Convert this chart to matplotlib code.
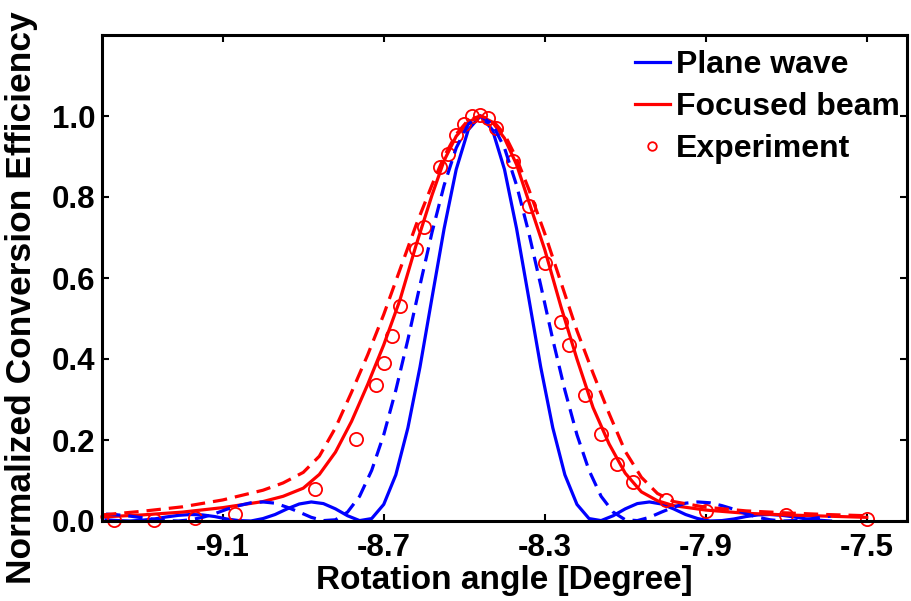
import numpy as np
from matplotlib import pyplot as plt

plt.rcParams['font.family'] = ['Liberation Sans', 'DejaVu Sans']
plt.rcParams['font.weight'] = 'bold'

# Plane wave (blue), solid and dashed
x_plane = [-9.39, -9.36, -9.33, -9.30, -9.27, -9.24, -9.21, -9.18, -9.15, -9.12,
           -9.09, -9.06, -9.03, -9.00, -8.97, -8.94, -8.91, -8.88, -8.85, -8.82,
           -8.79, -8.76, -8.73, -8.70, -8.67, -8.64, -8.61, -8.58, -8.55, -8.52,
           -8.49, -8.46, -8.43, -8.40, -8.37, -8.34, -8.31, -8.28, -8.25, -8.22,
           -8.19, -8.16, -8.13, -8.10, -8.07, -8.04, -8.01, -7.98, -7.95, -7.92,
           -7.89, -7.86, -7.83, -7.80, -7.77, -7.74, -7.71, -7.68, -7.65, -7.62,
           -7.59]
plane_solid = [0.003, 0.001, 0.000, 0.002, 0.005, 0.010, 0.014, 0.016, 0.015, 0.011,
               0.005, 0.001, 0.000, 0.006, 0.016, 0.030, 0.042, 0.047, 0.043, 0.030,
               0.013, 0.001, 0.006, 0.041, 0.114, 0.230, 0.380, 0.552, 0.722, 0.868,
               0.966, 1.000, 0.966, 0.868, 0.722, 0.552, 0.380, 0.230, 0.114, 0.041,
               0.006, 0.001, 0.013, 0.030, 0.043, 0.047, 0.042, 0.030, 0.016, 0.006,
               0.000, 0.001, 0.005, 0.011, 0.015, 0.016, 0.014, 0.010, 0.005, 0.002,
               0.000]
plane_dash = [0.017, 0.015, 0.012, 0.008, 0.004, 0.001, 0.000, 0.003, 0.009, 0.018,
              0.029, 0.038, 0.045, 0.047, 0.044, 0.034, 0.022, 0.009, 0.001, 0.003,
              0.022, 0.061, 0.125, 0.213, 0.323, 0.448, 0.582, 0.713, 0.829, 0.921,
              0.980, 1.000, 0.980, 0.921, 0.829, 0.713, 0.582, 0.448, 0.323, 0.213,
              0.125, 0.061, 0.022, 0.003, 0.001, 0.009, 0.022, 0.034, 0.044, 0.047,
              0.045, 0.038, 0.029, 0.018, 0.009, 0.003, 0.000, 0.001, 0.004, 0.008,
              0.012]

# Focused beam (red), solid and dashed
x_focus = [-9.40, -9.30, -9.20, -9.10, -9.00, -8.95, -8.90, -8.86, -8.82, -8.78,
           -8.74, -8.70, -8.66, -8.62, -8.58, -8.55, -8.52, -8.49, -8.46, -8.43,
           -8.40, -8.37, -8.34, -8.30, -8.26, -8.22, -8.18, -8.14, -8.10, -8.06,
           -8.02, -7.98, -7.90, -7.80, -7.70, -7.60, -7.50]
focus_solid = [0.010, 0.015, 0.022, 0.033, 0.048, 0.061, 0.081, 0.115, 0.170, 0.246,
               0.337, 0.435, 0.545, 0.680, 0.805, 0.890, 0.950, 0.985, 1.000, 0.985,
               0.945, 0.880, 0.790, 0.670, 0.530, 0.400, 0.280, 0.190, 0.118, 0.072,
               0.050, 0.038, 0.027, 0.019, 0.015, 0.012, 0.009]
focus_dash = [0.015, 0.024, 0.035, 0.052, 0.076, 0.094, 0.120, 0.160, 0.230, 0.318,
              0.410, 0.510, 0.620, 0.730, 0.830, 0.900, 0.955, 0.990, 1.000, 0.990,
              0.955, 0.895, 0.820, 0.710, 0.590, 0.470, 0.365, 0.265, 0.172, 0.108,
              0.068, 0.048, 0.034, 0.025, 0.020, 0.016, 0.013]

# Experiment
x_exp = [-9.37, -9.27, -9.17, -9.07, -8.87, -8.77, -8.72, -8.70, -8.68, -8.66,
         -8.62, -8.60, -8.56, -8.54, -8.52, -8.50, -8.48, -8.46, -8.44, -8.42,
         -8.38, -8.34, -8.30, -8.26, -8.24, -8.20, -8.16, -8.12, -8.08, -8.00,
         -7.90, -7.70, -7.50]
y_exp = [0.002, 0.002, 0.007, 0.017, 0.079, 0.203, 0.335, 0.390, 0.457, 0.531,
         0.672, 0.727, 0.873, 0.906, 0.953, 0.980, 1.000, 1.003, 0.995, 0.970,
         0.890, 0.779, 0.638, 0.491, 0.434, 0.310, 0.216, 0.141, 0.097, 0.052,
         0.025, 0.015, 0.005]

fig = plt.figure(figsize=(9.12, 6.01), dpi=100)
ax = fig.add_axes([102/912, 80/601, 805/912, 486/601])

lw = 2.3
ax.plot(x_plane, plane_solid, color='b', lw=lw, label='Plane wave', clip_on=False)
ax.plot(x_focus, focus_solid, color='r', lw=lw, label='Focused beam', clip_on=False)
ax.plot(x_exp, y_exp, 'o', mfc='none', mec='r', ms=9.5, mew=1.3,
        label='Experiment', clip_on=False)
ax.plot(x_plane, plane_dash, color='b', lw=lw, ls=(0, (4.5, 2.5)), clip_on=False)
ax.plot(x_focus, focus_dash, color='r', lw=lw, ls=(0, (4.5, 2.5)), clip_on=False)

ax.set_xlim(-9.4, -7.4)
ax.set_ylim(0, 1.2)
ax.set_xticks([-9.1, -8.7, -8.3, -7.9, -7.5])
ax.set_yticks([0, 0.2, 0.4, 0.6, 0.8, 1.0])
ax.set_xticklabels(['-9.1', '-8.7', '-8.3', '-7.9', '-7.5'])
ax.set_yticklabels(['0.0', '0.2', '0.4', '0.6', '0.8', '1.0'])
ax.tick_params(direction='in', length=5, width=1.5, top=True, right=True,
               labelsize=22.5)
ax.tick_params(axis='x', pad=9)
ax.tick_params(axis='y', pad=5)
for s in ax.spines.values():
    s.set_linewidth(2.2)

ax.set_xlabel('Rotation angle [Degree]', fontsize=24, fontweight='bold', labelpad=1)
ax.set_ylabel('Normalized Conversion Efficiency', fontsize=25.5, fontweight='bold')
ax.yaxis.set_label_coords(-0.079, 0.459)

leg = ax.legend(loc='upper right', bbox_to_anchor=(900/912, 1 - 50/601),
                bbox_transform=fig.transFigure, frameon=False, fontsize=23,
                handlelength=1.1, handletextpad=0.2, labelspacing=0.38,
                markerscale=0.65, borderaxespad=0, borderpad=0)

fig.savefig('out.png', dpi=100)
